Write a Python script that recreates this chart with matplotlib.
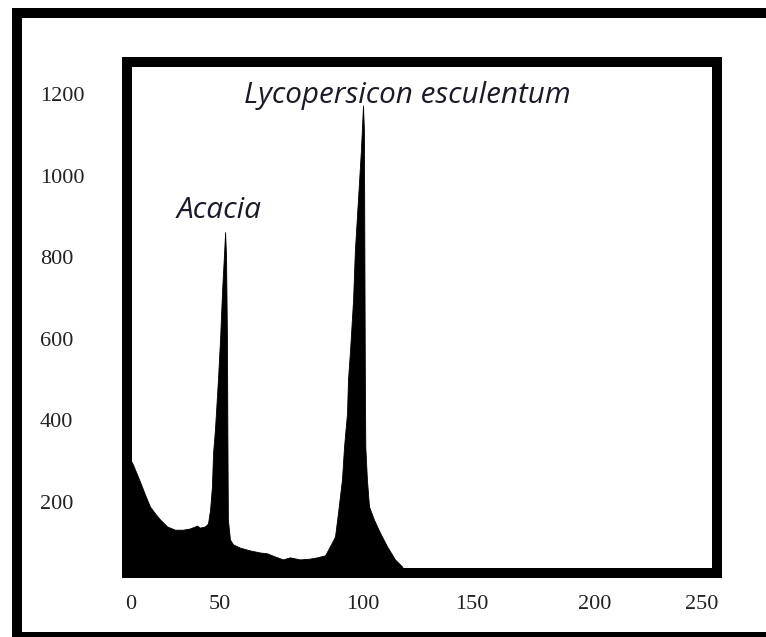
import matplotlib.pyplot as plt
import matplotlib.patches as patches
import numpy as np

# histograma (canal verde)
canal = [0, 2.2, 3.5, 5.6, 7.8, 9.9, 12.1, 14.3, 17.3, 20.7, 24.2, 27.2, 30.3, 31.5,
         33.7, 35.0, 35.9, 36.7, 37.2, 38.0, 39.3, 40.2, 41.1, 41.9, 42.4,
         42.8, 43.2, 43.4, 43.6, 44.5, 45.8, 48.8, 53.2, 57.5, 60.5, 64.0, 67.4,
         70.4, 74.8, 79.1, 82.1, 85.6, 87.7, 89.9, 91.2, 92.9, 93.8, 95.1, 95.5,
         96.4, 97.7, 98.5, 99.8, 101.1, 102.0,
         102.4, 102.6, 102.8, 103.0, 103.7, 104.6, 106.7, 109.3, 112.4, 115.8,
         118.8, 120.3, 121.0, 255]
contagem = [310, 296, 278, 249, 217, 188, 171, 156, 139, 131, 131, 134, 141, 136,
            139, 146, 180, 237, 320, 376, 499, 597, 719, 805, 862,
            805, 597, 352, 156, 107, 95, 87, 80, 75, 73, 65, 58,
            63, 58, 60, 63, 68, 90, 114, 173, 254, 335, 418, 499,
            572, 695, 818, 940, 1063, 1173,
            1112, 800, 499, 335, 254, 188, 156, 124, 90, 58,
            41, 26, 0, 0]

xticks_pos = [1.7, 40.2, 102.0, 149.1, 202.3, 248.5]
xticks_lab = ["0", "50", "100", "150", "200", "250"]
yticks = [200, 400, 600, 800, 1000, 1200]

fig = plt.figure(figsize=(7.66, 6.37), dpi=100)
W, H = 766, 637
axes = fig.add_axes([127 / W, (H - 573) / H, 590 / W, (573 - 61.5) / H])

axes.fill_between(canal, contagem, 0, color="black", linewidth=0.6, edgecolor="black")
axes.set_xlim(0, 255)
axes.set_ylim(24.6, 1281)

for s in axes.spines.values():
    s.set_linewidth(7.2)
    s.set_color("black")

axes.set_xticks(xticks_pos)
axes.set_xticklabels(xticks_lab)
axes.set_yticks(yticks)
axes.tick_params(length=0)
axes.tick_params(axis="x", pad=16)
axes.tick_params(axis="y", pad=62.6)
for lab in axes.get_xticklabels() + axes.get_yticklabels():
    lab.set_fontfamily("Liberation Serif")
    lab.set_fontsize(16)
    lab.set_color("#222222")
for lab in axes.get_yticklabels():
    lab.set_horizontalalignment("left")

# rótulos das espécies
axes.text(39.8, 916, "Acacia", fontfamily="Open Sans", style="italic",
          fontsize=21.5, color="#1a1a2a", ha="center", va="center")
axes.text(121.2, 1197, "Lycopersicon esculentum", fontfamily="Open Sans", style="italic",
          fontsize=21.3, color="#1a1a2a", ha="center", va="center")

# moldura externa
moldura = patches.Rectangle((17 / W, 0), 760 / W, (H - 13) / H, transform=fig.transFigure,
                            fill=False, edgecolor="black", linewidth=7.2, clip_on=False)
fig.patches.append(moldura)

fig.savefig("out.png", dpi=100, facecolor="white")
